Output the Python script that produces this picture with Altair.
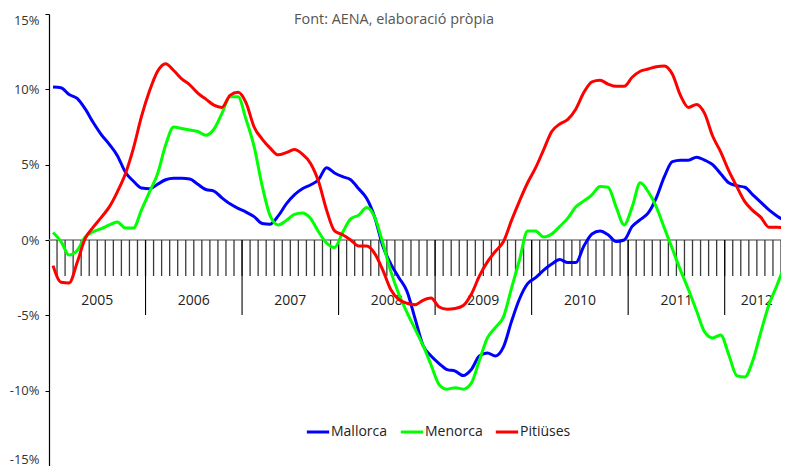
import altair as alt
import pandas as pd

# Monthly index: 0 = Jan 2005 ... 91 = Aug 2012
months = list(range(92))

mallorca = [10.15, 10.1, 9.65, 9.4, 8.7, 7.8, 7.0, 6.35, 5.6, 4.5, 3.9, 3.45,
            3.4, 3.7, 4.0, 4.1, 4.1, 4.05, 3.7, 3.35, 3.25, 2.8, 2.4, 2.1,
            1.85, 1.55, 1.1, 1.05, 1.6, 2.4, 3.0, 3.4, 3.65, 4.0, 4.8, 4.45,
            4.2, 4.0, 3.4, 2.75, 1.5, -0.4, -1.6, -2.5, -3.4, -5.2, -7.0, -7.7,
            -8.2, -8.6, -8.7, -9.0, -8.6, -7.7, -7.5, -7.7, -7.1, -5.4, -3.9, -2.9,
            -2.5, -2.0, -1.6, -1.3, -1.5, -1.5, -0.4, 0.4, 0.6, 0.35, -0.1, 0.0,
            0.9, 1.35, 1.8, 2.8, 4.2, 5.2, 5.3, 5.3, 5.5, 5.3, 5.0, 4.4,
            3.8, 3.6, 3.5, 3.0, 2.5, 2.0, 1.6, 1.27]

menorca = [0.5, -0.1, -1.0, -0.7, 0.2, 0.55, 0.75, 1.0, 1.2, 0.8, 0.8, 2.0,
           3.2, 4.4, 6.3, 7.5, 7.4, 7.3, 7.2, 6.95, 7.35, 8.4, 9.5, 9.5,
           8.0, 6.2, 3.6, 1.6, 1.0, 1.3, 1.7, 1.8, 1.45, 0.55, -0.2, -0.5,
           0.5, 1.4, 1.65, 2.15, 1.5, -0.2, -2.1, -3.6, -4.8, -5.9, -7.0, -8.3,
           -9.6, -9.9, -9.8, -9.9, -9.5, -8.0, -6.5, -5.8, -5.1, -3.2, -1.3, 0.6,
           0.6, 0.2, 0.4, 0.9, 1.45, 2.2, 2.6, 3.0, 3.55, 3.5, 2.2, 1.0,
           2.2, 3.8, 3.2, 2.2, 0.8, -0.6, -2.0, -3.3, -4.7, -6.1, -6.5, -6.3,
           -7.6, -9.0, -9.1, -8.0, -6.1, -4.3, -3.0, -1.6]

pitiuses = [-1.7, -2.8, -2.85, -1.5, 0.1, 0.85, 1.5, 2.2, 3.2, 4.4, 6.1, 8.2,
            9.9, 11.2, 11.7, 11.25, 10.7, 10.3, 9.75, 9.35, 8.95, 8.8, 9.6, 9.8,
            9.1, 7.5, 6.7, 6.1, 5.65, 5.8, 6.0, 5.7, 5.1, 3.9, 2.0, 0.6,
            0.35, 0.0, -0.4, -0.4, -0.9, -2.0, -3.3, -3.95, -4.2, -4.3, -4.0, -3.85,
            -4.45, -4.6, -4.55, -4.35, -3.6, -2.4, -1.45, -0.75, -0.1, 1.3, 2.6, 3.8,
            4.8, 6.0, 7.2, 7.7, 8.0, 8.7, 9.8, 10.5, 10.6, 10.35, 10.2, 10.2,
            10.8, 11.2, 11.35, 11.5, 11.55, 11.0, 9.6, 8.8, 9.0, 8.4, 6.9, 5.85,
            4.6, 3.55, 2.55, 1.95, 1.5, 0.85, 0.85, 0.8]

series_names = ["Mallorca", "Menorca", "Pitiüses"]
series_colors = ["#0000FF", "#00FF00", "#FF0000"]

years = ["2005", "2006", "2007", "2008", "2009", "2010", "2011", "2012"]
year_centers = [6, 18, 30, 42, 54, 66, 78, 88]
year_bounds = [12, 24, 36, 48, 60, 72, 84]
month_bounds = list(range(1, 92))
y_ticks = [-15, -10, -5, 0, 5, 10, 15]

rows = []
for name, vals in zip(series_names, [mallorca, menorca, pitiuses]):
    for m, v in zip(months, vals):
        rows.append({"serie": name, "mes": m + 0.5, "valor": v})
df = pd.DataFrame(rows)

df_zero = pd.DataFrame({"mes": [0], "mes2": [92], "valor": [0]})
df_mticks = pd.DataFrame({"mes": month_bounds, "valor": [0] * len(month_bounds)})
df_yticks = pd.DataFrame({"mes": year_bounds, "valor": [0] * len(year_bounds)})
df_years = pd.DataFrame({"mes": year_centers, "label": years})

FONT = "Open Sans"
xscale = alt.Scale(domain=[0, 91], nice=False, zero=False)
yscale = alt.Scale(domain=[-15, 15], nice=False, zero=False)
y_axis = alt.Axis(
    values=y_ticks,
    labelExpr="datum.value + '%'",
    grid=False,
    domainColor="#000000",
    domainWidth=1.2,
    tickColor="#000000",
    tickSize=4,
    labelPadding=6,
    labelFontSize=13,
    labelFont=FONT,
    labelColor="#333333",
    labelFlush=True,
    title=None,
)
Y = lambda: alt.Y("valor:Q", scale=yscale, axis=y_axis)
X = lambda: alt.X("mes:Q", scale=xscale, axis=None)

zero_line = alt.Chart(df_zero).mark_rule(color="#808080", strokeWidth=1.6).encode(
    x=X(), x2="mes2:Q", y=Y(),
)

month_ticks = alt.Chart(df_mticks).mark_rule(color="#3a3a3a", strokeWidth=1.3).encode(
    x=X(), y=Y(), y2=alt.value(262),
)

year_ticks = alt.Chart(df_yticks).mark_rule(color="#000000", strokeWidth=1.1).encode(
    x=X(), y=Y(), y2=alt.value(301),
)

year_labels = alt.Chart(df_years).mark_text(
    font=FONT, fontSize=14, color="#222222", baseline="middle", align="center"
).encode(
    x=X(), y=alt.value(287), text="label:N",
)

lines = alt.Chart(df).mark_line(strokeWidth=3, interpolate="monotone").encode(
    x=X(),
    y=Y(),
    color=alt.Color(
        "serie:N",
        scale=alt.Scale(domain=series_names, range=series_colors),
        sort=series_names,
        legend=alt.Legend(
            orient="none",
            legendX=256,
            legendY=405,
            direction="horizontal",
            title=None,
            symbolType="stroke",
            symbolStrokeWidth=3,
            symbolSize=500,
            labelFont=FONT,
            labelFontSize=14,
            labelColor="#222222",
            labelOffset=0,
            columnPadding=6,
        ),
    ),
)

title_text = alt.Chart(df_years.head(1)).mark_text(
    text="Font: AENA, elaboració pròpia",
    font=FONT, fontSize=14.4, color="#555555", align="center", baseline="middle",
).encode(x=alt.value(345), y=alt.value(6))

chart = alt.layer(zero_line, month_ticks, year_ticks, year_labels, lines, title_text).properties(
    width=732,
    height=452,
    padding={"left": 41, "top": 6, "right": 0, "bottom": 0},
    autosize=alt.AutoSizeParams(type="none"),
).configure_view(stroke=None)

chart.save("out.html", embed_options={"renderer": "svg", "actions": False})
